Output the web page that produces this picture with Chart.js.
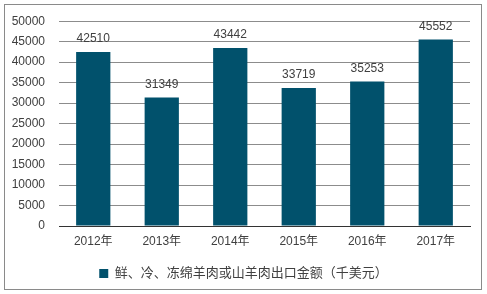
<!DOCTYPE html>
<html lang="zh">
	<head>
		<meta charset="UTF-8" />
		<title>鲜、冷、冻绵羊肉或山羊肉出口金额</title>
		<style>
			body { margin: 0; background: #fff; }
			#box { position: relative; width: 487px; height: 294px; }
			#frame {
				position: absolute; left: 4px; top: 4px; width: 478px; height: 286px;
				border: 1px solid #8a8a8a; box-sizing: border-box;
			}
			canvas { position: absolute; left: 0; top: 0; }
		</style>
	</head>
	<body>
		<div id="box">
			<div id="frame"></div>
			<canvas id="myChart" width="487" height="294"></canvas>
		</div>

		<script src="https://cdn.jsdelivr.net/npm/chart.js@4.4.0/dist/chart.umd.min.js"></script>
		<script>
			// data
			var years = ["2012年", "2013年", "2014年", "2015年", "2016年", "2017年"];
			var exportValue = [42510, 31349, 43442, 33719, 35253, 45552];
			var seriesName = "鲜、冷、冻绵羊肉或山羊肉出口金额（千美元）";

			var fontFamily = "'Liberation Sans', Arial, 'Noto Sans CJK SC', sans-serif";
			var textColor = "#404040";

			// numbers above each bar
			var barLabels = {
				id: "barLabels",
				afterDatasetsDraw: function (chart) {
					var ctx = chart.ctx;
					var meta = chart.getDatasetMeta(0);
					ctx.save();
					ctx.font = "12px " + fontFamily;
					ctx.fillStyle = textColor;
					ctx.textAlign = "center";
					ctx.textBaseline = "middle";
					meta.data.forEach(function (bar, i) {
						ctx.fillText(exportValue[i], bar.x, bar.y - 13);
					});
					ctx.restore();
				},
			};

			var chart = new Chart(document.getElementById("myChart"), {
				type: "bar",
				data: {
					labels: years,
					datasets: [
						{
							label: seriesName,
							data: exportValue,
							backgroundColor: "#01516c",
							categoryPercentage: 1,
							barPercentage: 0.5,
						},
					],
				},
				options: {
					responsive: false,
					animation: false,
					layout: { padding: { top: 16, right: 0, bottom: 4, left: 0 } },
					plugins: {
						tooltip: { enabled: false },
						legend: {
							position: "bottom",
							labels: {
								boxWidth: 9,
								boxHeight: 9,
								padding: 8,
								color: textColor,
								font: { size: 13, family: fontFamily },
							},
						},
					},
					scales: {
						x: {
							grid: { display: false, drawTicks: false },
							border: { color: "#333", width: 1 },
							ticks: {
								color: textColor,
								padding: 8,
								font: { size: 12, family: fontFamily },
							},
							afterFit: function (scale) { scale.height = 33; },
						},
						y: {
							min: 0,
							max: 50000,
							grid: { color: "#8c8c8c", drawTicks: false },
							border: { display: false },
							ticks: {
								stepSize: 5000,
								padding: 14,
								color: textColor,
								font: { size: 12, family: fontFamily },
								callback: function (v) { return String(v); },
							},
							afterFit: function (scale) { scale.width = 59; },
						},
						// empty right margin so the legend stays centred on the page
						yRight: {
							position: "right",
							grid: { display: false, drawTicks: false },
							border: { display: false },
							ticks: { display: false },
							afterFit: function (scale) { scale.width = 17; },
						},
					},
				},
				plugins: [barLabels],
			});
		</script>
	</body>
</html>
